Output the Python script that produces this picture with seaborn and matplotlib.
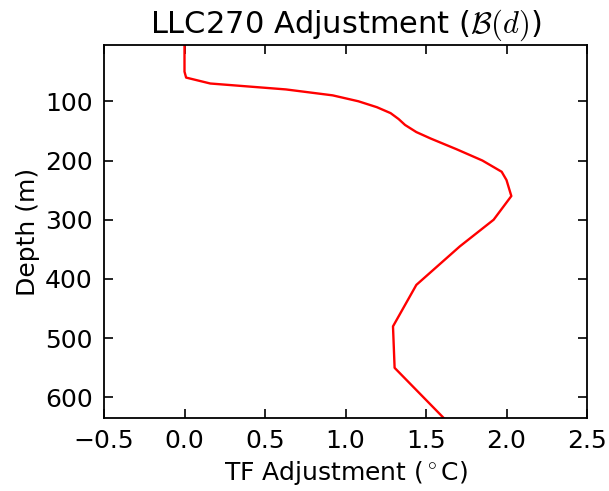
import matplotlib
matplotlib.use("Agg")
import matplotlib.pyplot as plt
import seaborn as sns
import pandas as pd

# Temperature-forcing adjustment profile B(d) versus depth
depth_m = [5, 50, 60, 70, 80, 90, 100, 110, 120, 130, 140, 152, 163, 181,
           200, 219, 233, 260, 300, 345, 410, 480, 550, 634.7]
tf_adjust = [0.0, 0.0, 0.01, 0.16, 0.63, 0.92, 1.08, 1.195, 1.28, 1.33, 1.37,
             1.44, 1.53, 1.69, 1.85, 1.97, 2.0, 2.03, 1.92, 1.71, 1.44, 1.295,
             1.305, 1.61]
x_ticks = [-0.5, 0.0, 0.5, 1.0, 1.5, 2.0, 2.5]
y_ticks = [100, 200, 300, 400, 500, 600]

sns.set_style("ticks")
plt.rcParams.update({
    "font.family": ["DejaVu Sans"],
    "font.size": 18,
    "mathtext.fontset": "cm",
    "text.color": "black",
    "axes.labelcolor": "black",
    "axes.linewidth": 1.3,
    "axes.edgecolor": "black",
    "xtick.color": "black",
    "ytick.color": "black",
    "xtick.direction": "in",
    "ytick.direction": "in",
    "xtick.top": True,
    "xtick.bottom": True,
    "ytick.left": True,
    "ytick.right": True,
    "xtick.major.size": 6.5,
    "ytick.major.size": 6.5,
    "xtick.major.width": 1.2,
    "ytick.major.width": 1.2,
    "xtick.major.pad": 8,
    "ytick.major.pad": 8,
    "xtick.labelsize": 18,
    "ytick.labelsize": 18,
})

df = pd.DataFrame({"depth": depth_m, "adj": tf_adjust})

fig = plt.figure(figsize=(6.09, 4.91), dpi=100)
ax = fig.add_axes([104 / 609, 1 - 418 / 491, (587 - 104) / 609, (418 - 45) / 491])

sns.lineplot(data=df, x="adj", y="depth", orient="y", sort=False,
             color="red", linewidth=1.7, ax=ax)

ax.set_xlim(-0.5, 2.5)
ax.set_ylim(max(depth_m), min(depth_m))
ax.set_xticks(x_ticks)
ax.set_xticklabels([f"{t:.1f}".replace("-", "\u2212") for t in x_ticks])
ax.set_yticks(y_ticks)
ax.set_xlabel(r"TF Adjustment ($^\circ$C)", fontsize=18)
ax.set_ylabel("Depth (m)", fontsize=18)
ax.set_title(r"LLC270 Adjustment ($\mathcal{B}(d)$)", fontsize=22, pad=9)
for s in ax.spines.values():
    s.set_visible(True)
    s.set_color("black")
    s.set_linewidth(1.3)

fig.savefig("out.png", dpi=100, facecolor="white")
